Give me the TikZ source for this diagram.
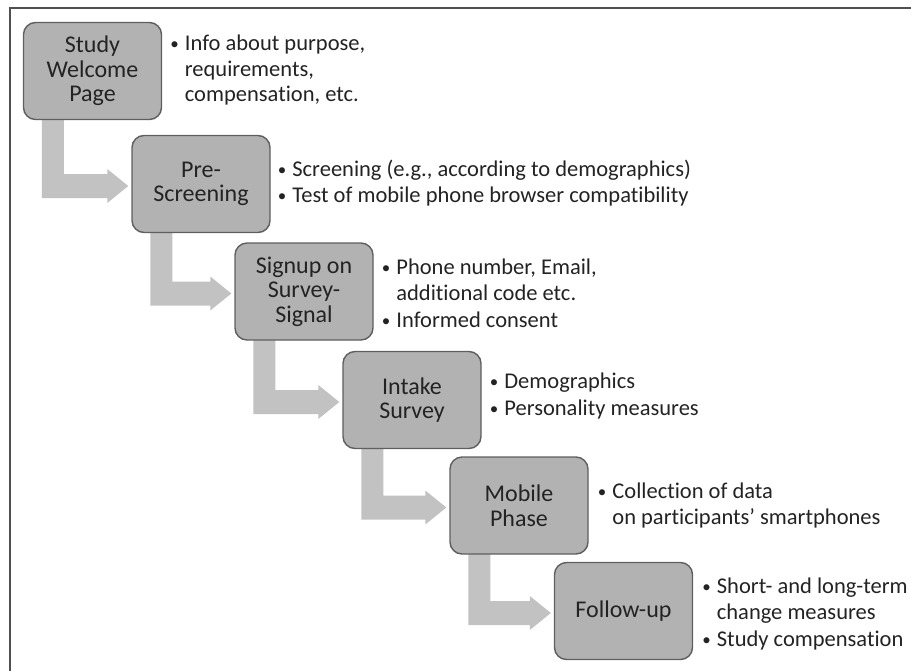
\documentclass[tikz,border=0pt]{standalone}
\usepackage{fontspec}
\setmainfont{Carlito}[Ligatures={NoCommon}]
\usetikzlibrary{calc,backgrounds}
\definecolor{boxfill}{RGB}{178,178,178}
\definecolor{boxline}{RGB}{95,95,95}
\definecolor{arrowfill}{RGB}{194,194,194}
\definecolor{ink}{RGB}{35,35,35}
\definecolor{framecol}{RGB}{80,80,80}
% bullet item and its continuation lines
\newcommand{\bitem}[1]{\makebox[14.5pt][l]{\raisebox{1pt}{\fontsize{17}{17}\selectfont\textbullet}}#1}
\newcommand{\bcont}[1]{\hspace*{14.5pt}#1}

\begin{document}
\begin{tikzpicture}[x=1pt,y=-1pt,
  stage/.style={draw=boxline, line width=1.4pt, fill=boxfill, rounded corners=12pt,
    minimum width=138pt, minimum height=97pt, align=center, text=ink,
    font=\fontsize{24}{24.5}\selectfont, inner sep=0pt},
  notes/.style={anchor=west, align=left, text=ink,
    font=\fontsize{22.5}{25.5}\selectfont, inner sep=0pt},
  flow/.style={fill=arrowfill},
  framing/.style={draw=framecol, line width=2.5pt}]
\useasboundingbox (0,0) rectangle (911,670);

% outer frame (top and left edges)
\draw[framing] (10,672) -- (10,8) -- (912,8);

% process stages
\node[stage] (s1) at (92.5,71)  {Study\\Welcome\\Page};
\node[stage] (s2) at (201,184)  {Pre-\\Screening};
\node[stage] (s3) at (304,291.5) {Signup on\\Survey-\\Signal};
\node[stage] (s4) at (412,400)  {Intake\\Survey};
\node[stage] (s5) at (519,505.5) {Mobile\\Phase};
\node[stage] (s6) at (623.5,611) {Follow-up};

% notes beside each stage
\node[notes] (n1) at ($(s1.east)+(8,-1)$)
  {\bitem{Info about purpose,}\\\bcont{requirements,}\\\bcont{compensation, etc.}};
\node[notes] (n2) at ($(s2.east)+(7,-1)$)
  {\bitem{Screening (e.g., according to demographics)}\\[1pt]\bitem{Test of mobile phone browser compatibility}};
\node[notes] (n3) at ($(s3.east)+(8,2)$)
  {\bitem{Phone number, Email,}\\\bcont{additional code etc.}\\[2pt]\bitem{Informed consent}};
\node[notes] (n4) at ($(s4.east)+(8,-4)$)
  {\bitem{Demographics}\\[2pt]\bitem{Personality measures}};
\node[notes] (n5) at ($(s5.east)+(9,0)$)
  {\bitem{Collection of data}\\\bcont{on participants' smartphones}};
\node[notes] (n6) at ($(s6.east)+(9,3)$)
  {\bitem{Short- and long-term}\\\bcont{change measures}\\[2pt]\bitem{Study compensation}};

% L-shaped block arrows between consecutive stages
\begin{scope}[on background layer]
\foreach \a/\b in {s1/s2,s2/s3,s3/s4,s4/s5,s5/s6}
  \fill[flow] let \p1=(\a.south west), \p2=(\b.west) in
    (\x1+19pt,\y1+2pt) -- (\x1+41pt,\y1+2pt) -- (\x1+41pt,\y2+10pt)
    -- (\x2-24pt,\y2+10pt) -- (\x2-24pt,\y2+15pt) -- (\x2-3pt,\y2-2pt)
    -- (\x2-24pt,\y2-19pt) -- (\x2-24pt,\y2-14pt) -- (\x1+19pt,\y2-14pt) -- cycle;
\end{scope}
\end{tikzpicture}
\end{document}
